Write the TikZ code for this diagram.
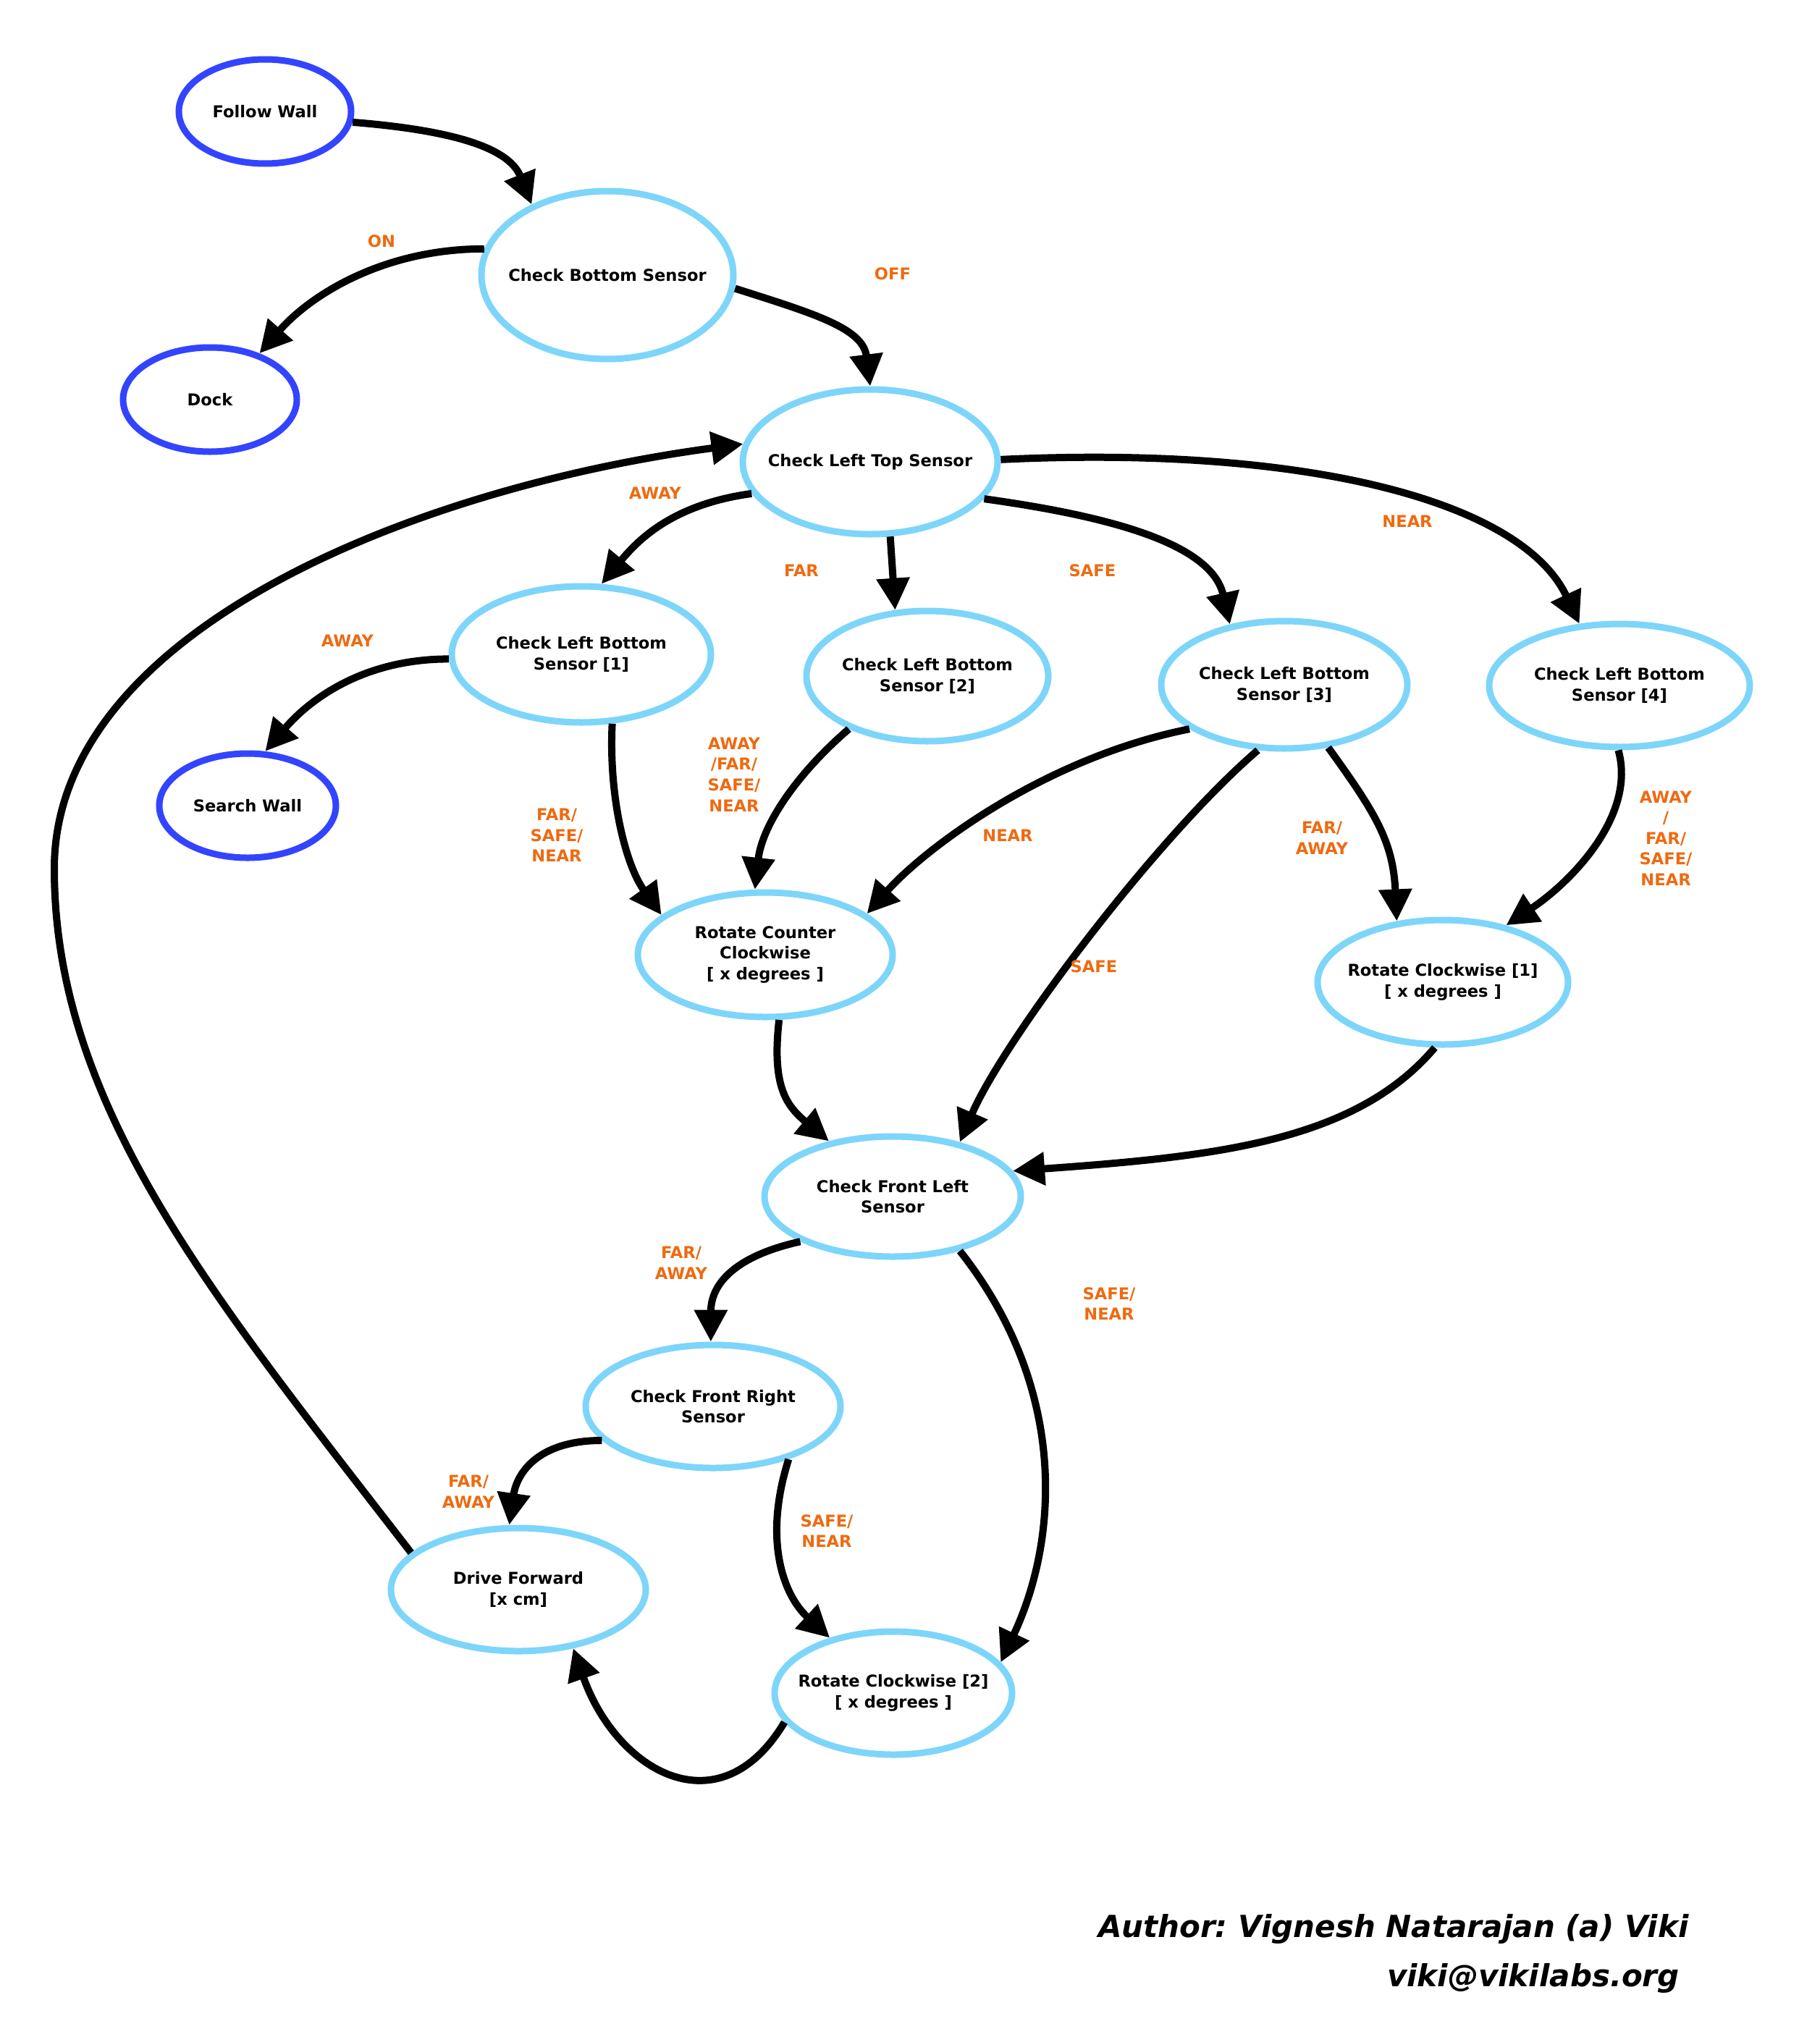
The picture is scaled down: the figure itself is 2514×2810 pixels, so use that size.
\documentclass[tikz,border=0pt]{standalone}
\usepackage{fontspec}
\setmainfont{DejaVu Sans}
\usepackage{tikz}
\usetikzlibrary{arrows.meta,shapes.geometric}
\definecolor{modec}{RGB}{51,68,255}
\definecolor{stc}{RGB}{125,213,250}
\definecolor{condc}{RGB}{238,106,17}
\frenchspacing
\tikzset{
  stnode/.style={ellipse,draw=stc,line width=4.5pt,inner sep=-60pt,align=center,font=\fontsize{11.3}{14.3}\selectfont\bfseries},
  modenode/.style={stnode,draw=modec},
  cond/.style={text=condc,align=center,inner sep=0pt,font=\fontsize{11.3}{14.3}\selectfont\bfseries},
  flow/.style={-{Triangle[length=22pt,width=22pt]},line width=5pt},
}

\begin{document}
\begin{tikzpicture}[x=0.5pt,y=-0.5pt]
\useasboundingbox (0,0) rectangle (2514,2810);
% states
\node[modenode,minimum width=119pt,minimum height=72pt] (fw) at (366,154) {Follow Wall};
\node[stnode,minimum width=174pt,minimum height=116pt] (cbs) at (839,380) {Check Bottom Sensor};
\node[modenode,minimum width=120pt,minimum height=72pt] (dock) at (290,552) {Dock};
\node[stnode,minimum width=176pt,minimum height=100pt] (clts) at (1202,638) {Check Left Top Sensor};
\node[stnode,minimum width=179pt,minimum height=94pt] (clb1) at (803,904) {Check Left Bottom\\Sensor [1]};
\node[stnode,minimum width=167pt,minimum height=90pt] (clb2) at (1281,934) {Check Left Bottom\\Sensor [2]};
\node[stnode,minimum width=170pt,minimum height=88pt] (clb3) at (1774,946) {Check Left Bottom\\Sensor [3]};
\node[stnode,minimum width=180pt,minimum height=85pt] (clb4) at (2237,947) {Check Left Bottom\\Sensor [4]};
\node[modenode,minimum width=122pt,minimum height=72pt] (sw) at (342,1113) {Search Wall};
\node[stnode,minimum width=176pt,minimum height=86pt] (rccw) at (1057,1319) {Rotate Counter\\Clockwise\\{[} x degrees ]};
\node[stnode,minimum width=173pt,minimum height=86pt] (rcw1) at (1993,1357) {Rotate Clockwise [1]\\{[} x degrees ]};
\node[stnode,minimum width=177pt,minimum height=83pt] (cfl) at (1233,1653) {Check Front Left\\Sensor};
\node[stnode,minimum width=176pt,minimum height=85pt] (cfr) at (985,1943) {Check Front Right\\Sensor};
\node[stnode,minimum width=176pt,minimum height=85pt] (df) at (716,2196) {Drive Forward\\{[}x cm]};
\node[stnode,minimum width=164pt,minimum height=85pt] (rcw2) at (1234,2339) {Rotate Clockwise [2]\\{[} x degrees ]};
\coordinate (loopw) at (75,1200);
% transitions
\draw[flow] (fw.-7) .. controls +(150,12) and +(-30,-75) .. (cbs.137);
\draw[flow] (cbs.168) .. controls +(-140,0) and +(70,-80) .. (dock.43);
\draw[flow] (cbs.-6) .. controls +(110,35) and +(-10,-80) .. (clts.90);
\draw[flow] (clts.195) .. controls +(-110,15) and +(50,-60) .. (clb1.74);
\draw[flow] (clts.-75) -- (clb2.116);
\draw[flow] (clts.-18) .. controls +(180,25) and +(-25,-110) .. (clb3.132);
\draw[flow] (clts.1) .. controls +(420,-20) and +(-80,-170) .. (clb4.123);
\draw[flow] (clb1.182) .. controls +(-120,0) and +(60,-70) .. (sw.72);
\draw[flow] (clb1.-66) .. controls +(-5,100) and +(-50,-70) .. (rccw.159);
\draw[flow] (clb2.214) .. controls +(-70,60) and +(10,-90) .. (rccw.99);
\draw[flow] (clb3.205) .. controls +(-200,40) and +(80,-90) .. (rccw.22);
\draw[flow] (clb3.248) .. controls +(-140,120) and +(60,-140) .. (cfl.39);
\draw[flow] (clb3.-55) .. controls +(65,90) and +(-5,-110) .. (rcw1.127);
\draw[flow] (clb4.269) .. controls +(25,90) and +(90,-60) .. (rcw1.42);
\draw[flow] (rccw.-78) .. controls +(-10,90) and +(-60,-50) .. (cfl.139);
\draw[flow] (rcw1.263) .. controls +(-110,130) and +(280,-20) .. (cfl.12);
\draw[flow] (cfl.206) .. controls +(-90,20) and +(0,-80) .. (cfr.92);
\draw[flow] (cfl.-39) .. controls +(150,190) and +(80,-170) .. (rcw2.16);
\draw[flow] (cfr.197) .. controls +(-90,0) and +(10,-70) .. (df.98);
\draw[flow] (cfr.-35) .. controls +(-35,110) and +(-65,-60) .. (rcw2.139);
\draw[flow] (rcw2.195) .. controls +(-90,150) and +(60,170) .. (df.-47);
\draw[flow] (df.161) .. controls +(-270,-350) and +(0,330) .. (loopw) .. controls +(0,-330) and +(-450,60) .. (clts.172);
% conditions
\node[cond] (lOn) at (527,333) {ON};
\node[cond] (lOff) at (1233,378) {OFF};
\node[cond] (lAway) at (905,681) {AWAY};
\node[cond] (lFar) at (1107,788) {FAR};
\node[cond] (lSafe) at (1509,788) {SAFE};
\node[cond] (lNear) at (1944,720) {NEAR};
\node[cond] (lAwayB) at (480,885) {AWAY};
\node[cond] (lOne) at (769,1154) {FAR/\\SAFE/\\NEAR};
\node[cond] (lTwo) at (1014,1070) {AWAY\\/FAR/\\SAFE/\\NEAR};
\node[cond] (lThreeN) at (1392,1154) {NEAR};
\node[cond] (lThreeS) at (1511,1335) {SAFE};
\node[cond] (lThreeF) at (1826,1158) {FAR/\\AWAY};
\node[cond] (lFour) at (2301,1158) {AWAY\\/\\FAR/\\SAFE/\\NEAR};
\node[cond] (lFl) at (941,1745) {FAR/\\AWAY};
\node[cond] (lFlS) at (1532,1801) {SAFE/\\NEAR};
\node[cond] (lFr) at (647,2061) {FAR/\\AWAY};
\node[cond] (lFrS) at (1142,2115) {SAFE/\\NEAR};
% credits
\node[anchor=east,inner sep=0pt,font=\fontsize{21}{25}\selectfont\bfseries\itshape] (author) at (2333,2665) {Author: Vignesh Natarajan (a) Viki};
\node[anchor=east,inner sep=0pt,font=\fontsize{21}{25}\selectfont\bfseries\itshape] (mail) at (2320,2733) {viki@vikilabs.org};
\end{tikzpicture}
\end{document}
